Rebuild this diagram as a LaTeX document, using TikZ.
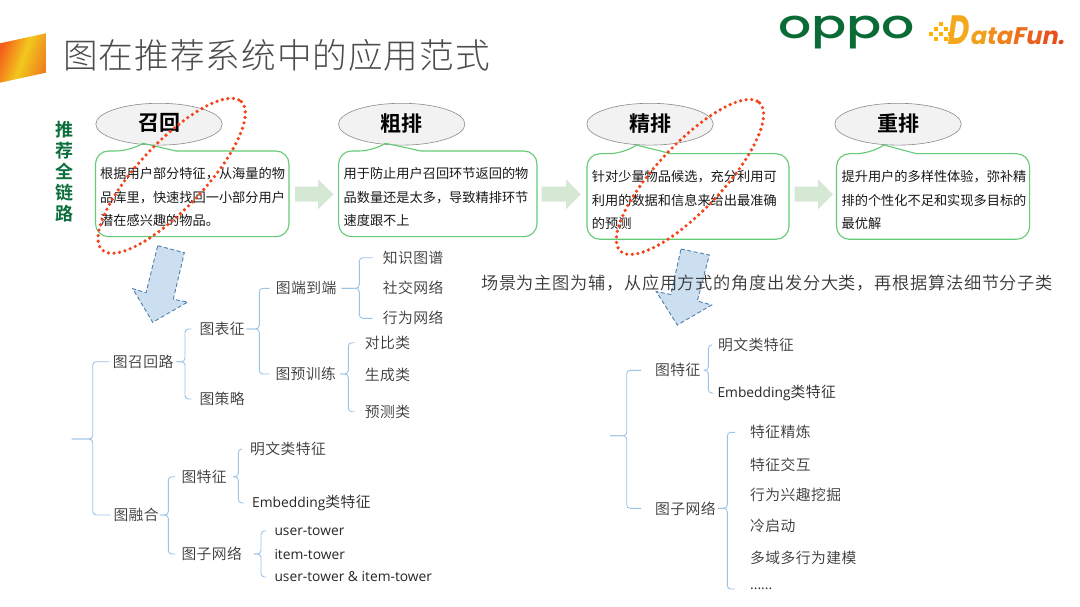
\documentclass[tikz,border=0pt]{standalone}
\usepackage{fontspec}
\usetikzlibrary{calc}
\setmainfont{Noto Sans CJK SC}
\newfontfamily\cjk[BoldFont={Noto Sans CJK SC Bold}]{Noto Sans CJK SC}
\newfontfamily\cjklt[LetterSpace=3]{Noto Sans CJK SC DemiLight}
\newfontfamily\cjkthin[LetterSpace=3]{Noto Sans CJK SC Light}
\newfontfamily\cjkmid[LetterSpace=4]{Noto Sans CJK SC DemiLight}
\newfontfamily\latn{Open Sans}
\newfontfamily\logofont{Poppins Medium}
\newfontfamily\dfont[FakeSlant=0.2,BoldFont={Poppins Bold}]{Poppins}
\definecolor{treegray}{HTML}{383838}
\definecolor{treeblue}{HTML}{9DC3E6}
\definecolor{boxgreen}{HTML}{62CB74}
\definecolor{arrowgreen}{HTML}{D5E8D4}
\definecolor{arrowblue}{HTML}{CCDFF1}
\definecolor{dashblue}{HTML}{4F7FAB}
\definecolor{dotred}{HTML}{F4431A}
\definecolor{labelgreen}{HTML}{0B6E3C}
\definecolor{oppogreen}{HTML}{0A6B37}
\definecolor{ribbonred}{HTML}{F4601A}
\definecolor{ribbonyellow}{HTML}{F2C81C}
\definecolor{ribbonorange}{HTML}{F0801E}
\newcommand\bracket[6]{%
  \coordinate (ba) at ($(#2.west)+(-#6,0)$);
  \coordinate (bb) at ($(#3.west)+(-#6,0)$);
  \coordinate (bc) at ($(#1)+(#5,0)$);
  \coordinate (bs) at (#4,0);
  \draw[treeline] (ba) -- (bs|-ba) -- (bs|-bc) -- (bc);
  \draw[treeline] (bb) -- (bs|-bb) -- (bs|-bc) -- (bc);
}
\tikzset{
  treeline/.style={draw=treeblue,line width=0.9pt,rounded corners=3.5pt},
  treetext/.style={inner sep=0pt,anchor=west,text=treegray,font=\cjklt\fontsize{14.8}{18}\selectfont},
  lattext/.style={inner sep=0pt,anchor=west,text=black!85,font=\latn\fontsize{13.8}{18}\selectfont},
  stagebubble/.style={draw=black!45,fill=black!5,line width=0.6pt},
  stagelabel/.style={inner sep=0pt,text=black,font=\cjk\bfseries\fontsize{21}{24}\selectfont},
  calloutline/.style={draw=boxgreen,line width=1.1pt},
  boxtext/.style={inner sep=0pt,anchor=north west,align=left,text=black!90,font=\cjk\fontsize{13.2}{23.7}\selectfont},
  flowarrow/.style={fill=arrowgreen,draw=none},
  downarrow/.style={fill=arrowblue,draw=dashblue,line width=0.9pt,dash pattern=on 4pt off 2.5pt},
  dotring/.style={draw=dotred,line width=3.6pt,line cap=round,dash pattern=on 0pt off 5.6pt},
}
\begin{document}
\begin{tikzpicture}[x=1pt,y=-1pt]
\useasboundingbox[fill=white] (0,0) rectangle (1080,607);
% corner ribbon
\shade[left color=ribbonred,right color=ribbonorange,middle color=ribbonyellow,shading angle=70]
  (0,43.3) -- (45.9,33.3) -- (45.9,72.7) -- (0,82.7) -- cycle;
% title
\node[inner sep=0pt,anchor=west,text=black!70,font=\cjkthin\fontsize{34.6}{40}\selectfont] (title) at (63,55) {图在推荐系统中的应用范式};
% logos
\node[inner sep=0pt,text=oppogreen,font=\logofont\fontsize{40}{44}\selectfont,xscale=1.3,transform shape] (oppo) at (846.5,33) {oppo};
\foreach \a/\b in {929/32,934/27,934/37,939/32,944/27,944/37,939/22,948/32}{\fill[orange!60!yellow] (\a,\b) rectangle ++(3.6,3.6);}
\node[inner sep=0pt,anchor=base west,font=\dfont\bfseries\fontsize{24}{28}\selectfont] (datafun) at (946,45)
 {\textcolor[HTML]{F5A81C}{\scalebox{0.72}[1]{\fontsize{41}{44}\selectfont D}}\kern2pt\textcolor[HTML]{F2A01C}{a}\textcolor[HTML]{F0901C}{t}\textcolor[HTML]{EF801C}{a}\textcolor[HTML]{EC701C}{F}\textcolor[HTML]{EA601C}{u}\textcolor[HTML]{E8501C}{n}\textcolor[HTML]{E6441C}{.}};
% side label
\node[inner sep=0pt,align=center,text=labelgreen,font=\cjk\bfseries\fontsize{18}{21}\selectfont] (side) at (65,172) {推\\荐\\全\\链\\路};
% stage bubbles
\draw[stagebubble] (159,124.2) ellipse [x radius=63.2,y radius=20.9];
\draw[stagebubble] (401.7,124.2) ellipse [x radius=63.2,y radius=20.9];
\draw[stagebubble] (650,124.2) ellipse [x radius=63.2,y radius=20.9];
\draw[stagebubble] (898,124.2) ellipse [x radius=63.2,y radius=20.9];
\node[stagelabel] (s1) at (159,123.3) {召回};
\node[stagelabel] (s2) at (401.7,123.3) {粗排};
\node[stagelabel] (s3) at (650,123.3) {精排};
\node[stagelabel] (s4) at (898,123.3) {重排};
% callouts
\draw[calloutline,rounded corners=13pt] (129,151) [sharp corners] -- (143,143.3) -- (176,151) [rounded corners=13pt] -- (289,151) -- (289,236.7) -- (95.5,236.7) -- (95.5,151) -- cycle;
\draw[calloutline,rounded corners=13pt] (372,151) [sharp corners] -- (385.5,143.3) -- (421,151) [rounded corners=13pt] -- (537,151) -- (537,236.7) -- (338.6,236.7) -- (338.6,151) -- cycle;
\draw[calloutline,rounded corners=13pt] (622,153.7) [sharp corners] -- (636.5,145) -- (671,153.7) [rounded corners=13pt] -- (789,153.7) -- (789,239.3) -- (587,239.3) -- (587,153.7) -- cycle;
\draw[calloutline,rounded corners=13pt] (869,153.7) [sharp corners] -- (884,145) -- (916.5,153.7) [rounded corners=13pt] -- (1029.6,153.7) -- (1029.6,239.3) -- (836.5,239.3) -- (836.5,153.7) -- cycle;
\node[boxtext] (b1) at (100,167.2) {根据用户部分特征，从海量的物\\品库里，快速找回一小部分用户\\潜在感兴趣的物品。};
\node[boxtext] (b2) at (343.4,167.2) {用于防止用户召回环节返回的物\\品数量还是太多，导致精排环节\\速度跟不上};
\node[boxtext] (b3) at (591.7,170.2) {针对少量物品候选，充分利用可\\利用的数据和信息来给出最准确\\的预测};
\node[boxtext] (b4) at (841.4,170.2) {提升用户的多样性体验，弥补精\\排的个性化不足和实现多目标的\\最优解};
% flow arrows
\fill[flowarrow] (295,186.7) -- (318,186.7) -- (318,179.3) -- (333.4,194.3) -- (318,209.3) -- (318,201.7) -- (295,201.7) -- cycle;
\fill[flowarrow] (541.7,186.7) -- (566,186.7) -- (566,179.3) -- (580.7,194.3) -- (566,209.3) -- (566,201.7) -- (541.7,201.7) -- cycle;
\fill[flowarrow] (794.5,186.7) -- (818,186.7) -- (818,179.3) -- (833,194.3) -- (818,209.3) -- (818,201.7) -- (794.5,201.7) -- cycle;
% down arrows
\draw[downarrow] (157.7,245.7) -- (184.3,252.7) -- (173.3,299.3) -- (187.7,302) -- (152.7,322.3) -- (132.7,288.7) -- (146,292.7) -- cycle;
\draw[downarrow] (681,249) -- (709.3,255) -- (697.3,301) -- (711.7,305) -- (677.3,325) -- (656.2,291.5) -- (670.8,294.5) -- cycle;
% note
\node[inner sep=0pt,anchor=west,text=treegray,font=\cjkmid\fontsize{17.2}{20}\selectfont] (note) at (481,283) {场景为主图为辅，从应用方式的角度出发分大类，再根据算法细节分子类};
% left tree
\coordinate (lroot) at (71.5,439);
\node[treetext] (lr) at (112.7,361.7) {图召回路};
\node[treetext] (lf) at (113.3,515) {图融合};
\node[treetext] (lrep) at (199.3,329) {图表征};
\node[treetext] (lstr) at (199.3,399) {图策略};
\node[treetext] (le2e) at (275.7,288.3) {图端到端};
\node[treetext] (lpre) at (275.3,374) {图预训练};
\node[treetext] (kg) at (382.7,257.7) {知识图谱};
\node[treetext] (sn) at (382.7,288.3) {社交网络};
\node[treetext] (bn) at (382.7,318.3) {行为网络};
\node[treetext] (con) at (364.7,342.7) {对比类};
\node[treetext] (gen) at (364.7,374.7) {生成类};
\node[treetext] (prd) at (364.7,411.7) {预测类};
\node[treetext] (lfeat) at (181.3,476.7) {图特征};
\node[treetext] (lsub) at (181.3,554) {图子网络};
\node[treetext] (lplain) at (250,449) {明文类特征};
\node[lattext] (lemb) at (252,503) {Embedding\cjklt\fontsize{14.8}{18}\selectfont 类特征};
\node[lattext] (ut) at (274.3,531) {user-tower};
\node[lattext] (it) at (274.3,554.5) {item-tower};
\node[lattext] (uit) at (274.3,577) {user-tower \& item-tower};
\bracket{lroot}{lr}{lf}{92.7}{0}{3}
\bracket{lr.east}{lrep}{lstr}{185}{2.7}{8}
\bracket{lrep.east}{le2e}{lpre}{259.3}{1.7}{6}
\bracket{le2e.east}{kg}{bn}{359.3}{5}{10}
\bracket{lpre.east}{con}{prd}{348.3}{4}{10}
\bracket{lf.east}{lfeat}{lsub}{168.3}{1.5}{6}
\bracket{lfeat.east}{lplain}{lemb}{238.3}{6}{8}
\bracket{lsub.east}{ut}{uit}{261}{11.7}{10}
% right tree
\coordinate (rroot) at (610,435.7);
\node[treetext] (rfeat) at (655,370.3) {图特征};
\node[treetext] (rsub) at (655,508.3) {图子网络};
\node[treetext] (rplain) at (718,345) {明文类特征};
\node[lattext] (remb) at (717.3,393) {Embedding\cjklt\fontsize{14.8}{18}\selectfont 类特征};
\node[treetext] (r1) at (750,432.3) {特征精炼};
\node[treetext] (r2) at (750,465) {特征交互};
\node[treetext] (r3) at (750,495) {行为兴趣挖掘};
\node[treetext] (r4) at (750,526) {冷启动};
\node[treetext] (r5) at (750,557.7) {多域多行为建模};
\node[lattext] (r6) at (750,589) {......};
\bracket{rroot}{rfeat}{rsub}{626.7}{0}{14}
\bracket{rfeat.east}{rplain}{remb}{708.3}{3.3}{6}
\bracket{rsub.east}{r1}{r6}{727.3}{2.3}{15}
% dotted rings
\draw[dotring,rotate around={46.8:(171.7,175.8)}] (171.7,175.8) ellipse [x radius=101.7,y radius=33];
\draw[dotring,rotate around={46.8:(690,177)}] (690,177) ellipse [x radius=101.7,y radius=33];
\end{tikzpicture}
\end{document}
